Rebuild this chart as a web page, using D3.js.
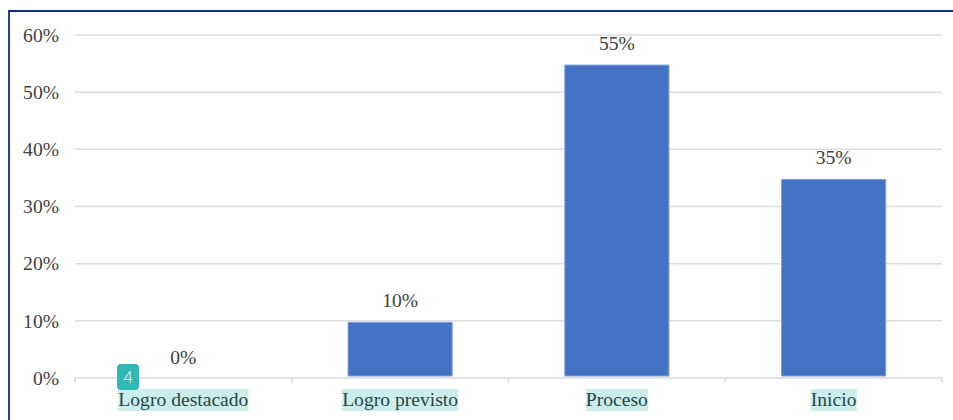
<!DOCTYPE html>
<html><head><meta charset="utf-8">
<script src="https://cdn.jsdelivr.net/npm/d3@7"></script>
<style>html,body{margin:0;padding:0;background:#fff}svg{display:block}</style></head>
<body><svg id="c" width="953" height="420"></svg>
<script>
const categories = ["Logro destacado","Logro previsto","Proceso","Inicio"];
const values = [0,10,55,35];
const yTicks = [0,10,20,30,40,50,60];
const badgeText = "4";

const svg = d3.select("#c");
const serif = "'Liberation Serif', serif";
const fs = 19.6;
svg.append("path").attr("d","M9,420V11H953").attr("fill","none").attr("stroke","#16307f").attr("stroke-width",1.8);

const x = d3.scaleBand().domain(categories).range([75,942]).paddingInner(0.515).paddingOuter(0.2575);
const y = d3.scaleLinear().domain([0,60]).range([378,35]);
const fmt = d => d + "%";

const gridG = svg.append("g");
gridG.selectAll("line").data(yTicks.slice(1)).join("line")
  .attr("x1",75).attr("x2",942).attr("y1",d=>y(d)).attr("y2",d=>y(d))
  .attr("stroke","#dedede").attr("stroke-width",1.5);

const yAxis = svg.append("g").attr("transform","translate(75,0)")
  .call(d3.axisLeft(y).tickValues(yTicks).tickFormat(fmt).tickSize(0).tickPadding(16));
yAxis.select(".domain").remove();
yAxis.selectAll("text").attr("font-family",serif).attr("font-size",fs).attr("fill","#404040");

const step = x.step();
svg.append("g").selectAll("rect").data(categories).join("rect")
  .attr("x",d=>x(d)+0.5).attr("width",x.bandwidth()-1)
  .attr("y",(d,i)=>y(values[i])+1.5).attr("height",(d,i)=>Math.max(0,y(0)-y(values[i])-3.5))
  .attr("fill",(d,i)=>values[i]>0?"#4472c4":"none")
  .attr("stroke",(d,i)=>values[i]>0?"#7f9fdc":"none").attr("stroke-width",1);

const xAxis = svg.append("g").attr("transform","translate(0,378)");
xAxis.append("line").attr("x1",75).attr("x2",942).attr("stroke","#dadada").attr("stroke-width",1.5);
const edges = d3.range(categories.length+1).map(i=>75+i*step);
xAxis.selectAll("line.t").data(edges).join("line").attr("class","t")
  .attr("x1",d=>d).attr("x2",d=>d).attr("y1",0).attr("y2",5).attr("stroke","#dadada").attr("stroke-width",1.5);

const labels = svg.append("g").selectAll("g").data(categories).join("g");
const texts = labels.append("text").attr("x",d=>x(d)+x.bandwidth()/2).attr("y",406)
  .attr("text-anchor","middle").attr("font-family",serif).attr("font-size",fs).attr("fill","#2a4545").text(d=>d);
texts.each(function(){
  const b=this.getBBox();
  d3.select(this.parentNode).insert("rect","text").attr("x",b.x).attr("width",b.width).attr("y",389).attr("height",22).attr("fill","#cbeeec");
});

svg.append("g").selectAll("text").data(categories).join("text")
  .attr("x",d=>x(d)+x.bandwidth()/2).attr("y",(d,i)=>y(values[i])-14)
  .attr("text-anchor","middle").attr("font-family",serif).attr("font-size",fs).attr("fill","#404040")
  .text((d,i)=>fmt(values[i]));

const badge = svg.append("g").attr("transform","translate(117,364)");
badge.append("rect").attr("width",22).attr("height",26).attr("rx",4).attr("fill","#2fb8b5");
badge.append("text").attr("x",11).attr("y",19).attr("text-anchor","middle").attr("font-family","'Open Sans', sans-serif").attr("font-size",16).attr("font-weight",300).attr("fill","#fff").text(badgeText);
</script></body></html>
